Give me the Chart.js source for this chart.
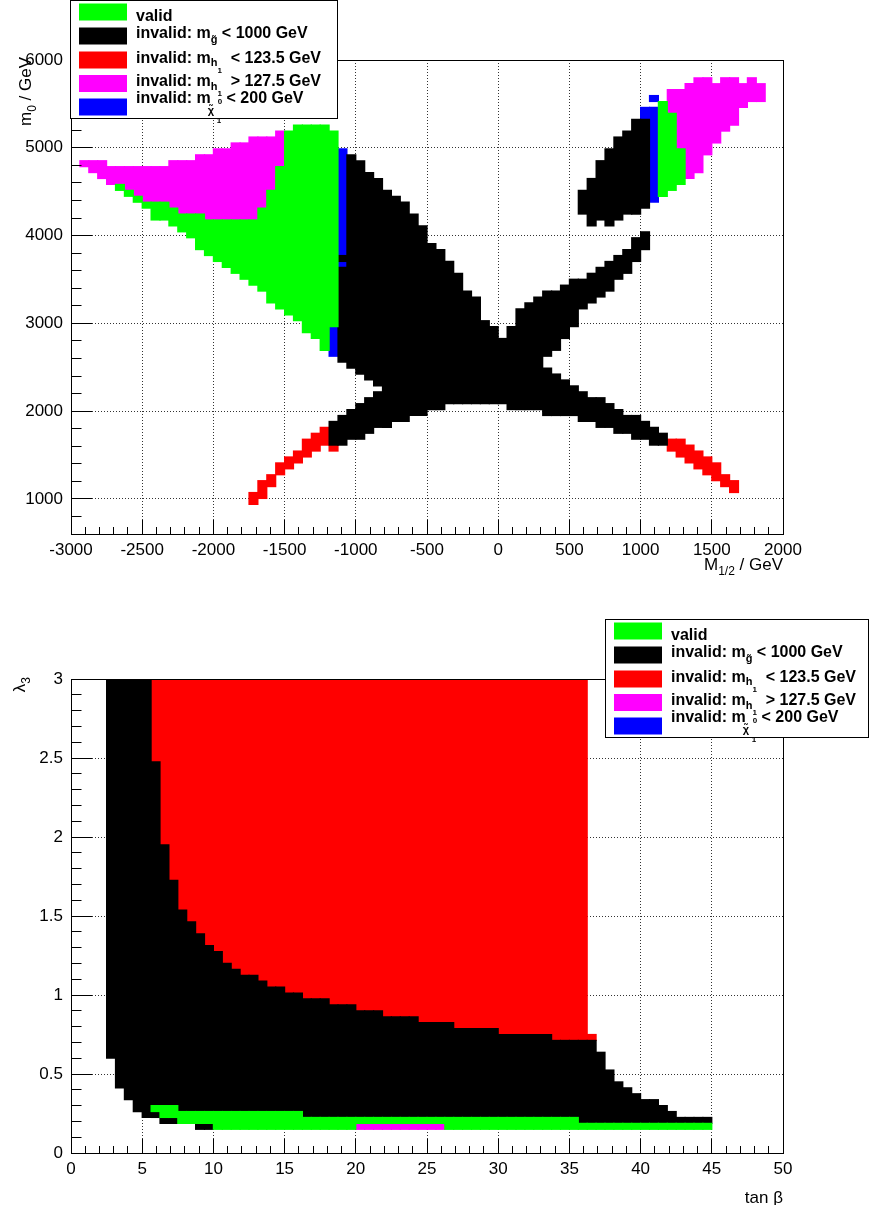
<!DOCTYPE html>
<html><head><meta charset="utf-8">
<script src="https://cdn.jsdelivr.net/npm/chart.js@4.4.1/dist/chart.umd.min.js"></script>
<style>
html,body{margin:0;padding:0;background:#fff;}
#wrap{position:relative;width:869px;height:1205px;overflow:hidden;background:#fff;}
#c1{position:absolute;left:0;top:0;width:869px;height:600px;}
#c2{position:absolute;left:0;top:600px;width:869px;height:605px;}
</style></head><body>
<div id="wrap"><canvas id="c1" width="869" height="600"></canvas><canvas id="c2" width="869" height="605"></canvas></div>
<script>
// ---------------- DATA ----------------
// Top plot: each entry = [M1/2 (GeV, bin centre), m0 from (GeV), m0 to (GeV)]
const topXTicks = [-3000,-2500,-2000,-1500,-1000,-500,0,500,1000,1500,2000];
const topYTicks = [1000,2000,3000,4000,5000,6000];
const topXLabels = ['-3000','-2500','-2000','-1500','-1000','-500','0','500','1000','1500','2000'];
const topYLabels = ['1000','2000','3000','4000','5000','6000'];

const topValid = [
 [-2656.25,4515,4582.5],[-2593.75,4447.5,4515],[-2531.25,4380,4447.5],[-2468.75,4312.5,4380],
 [-2406.25,4177.5,4380],[-2343.75,4177.5,4380],[-2281.25,4110,4312.5],[-2218.75,4042.5,4245],
 [-2156.25,3975,4245],[-2093.75,3840,4245],[-2031.25,3772.5,4177.5],[-1968.75,3705,4177.5],
 [-1906.25,3637.5,4177.5],[-1843.75,3570,4177.5],[-1781.25,3502.5,4177.5],[-1718.75,3435,4177.5],
 [-1656.25,3367.5,4312.5],[-1593.75,3232.5,4515],[-1531.25,3165,4785],[-1468.75,3097.5,5190],
 [-1406.25,3030,5257.5],[-1343.75,2895,5257.5],[-1281.25,2827.5,5257.5],[-1218.75,2692.5,5257.5],
 [-1156.25,2962.5,5190],
 [1156.25,4447.5,5527.5],[1218.75,4515,5392.5],[1281.25,4582.5,4987.5]
];
const topGluino = [
 [-1156.25,1612.5,1882.5],
 [-1093.75,1612.5,1950],[-1093.75,2557.5,3637.5],[-1093.75,3705,3772.5],
 [-1031.25,1680,2017.5],[-1031.25,2490,4920],
 [-968.75,1680,2085],[-968.75,2422.5,4852.5],
 [-906.25,1747.5,2152.5],[-906.25,2355,4717.5],
 [-843.75,1815,2220],[-843.75,2287.5,4650],
 [-781.25,1815,4515],[-718.75,1882.5,4447.5],[-656.25,1882.5,4380],[-593.75,1950,4245],
 [-531.25,1950,4110],[-468.75,2017.5,3907.5],[-406.25,2017.5,3840],[-343.75,2085,3705],
 [-281.25,2085,3570],[-218.75,2085,3367.5],[-156.25,2085,3300],[-93.75,2085,3030],
 [-31.25,2085,2962.5],[31.25,2085,2827.5],[93.75,2017.5,2962.5],[156.25,2017.5,3165],
 [218.75,2017.5,3232.5],[281.25,2017.5,3300],
 [343.75,1950,2490],[343.75,2625,3367.5],
 [406.25,1950,2422.5],[406.25,2692.5,3367.5],
 [468.75,1950,2355],[468.75,2827.5,3435],
 [531.25,1950,2287.5],[531.25,2962.5,3502.5],
 [593.75,1882.5,2220],[593.75,3165,3502.5],[593.75,4245,4515],
 [656.25,1882.5,2152.5],[656.25,3232.5,3570],[656.25,4110,4650],
 [718.75,1815,2152.5],[718.75,3300,3637.5],[718.75,4177.5,4852.5],
 [781.25,1815,2085],[781.25,3367.5,3705],[781.25,4110,4987.5],
 [843.75,1747.5,2017.5],[843.75,3502.5,3772.5],[843.75,4177.5,5122.5],
 [906.25,1747.5,1950],[906.25,3570,3840],[906.25,4245,5190],
 [968.75,1680,1950],[968.75,3705,3975],[968.75,4245,5325],
 [1031.25,1680,1882.5],[1031.25,3840,4042.5],[1031.25,4312.5,5325],
 [1093.75,1612.5,1815],[1156.25,1612.5,1747.5]
];
const topHiggsLow = [
 [-1718.75,937.5,1072.5],[-1656.25,1005,1207.5],[-1593.75,1140,1275],[-1531.25,1275,1410],
 [-1468.75,1342.5,1477.5],[-1406.25,1410,1545],[-1343.75,1477.5,1680],[-1281.25,1545,1747.5],
 [-1218.75,1612.5,1815],[-1156.25,1545,1612.5],
 [1218.75,1545,1680],[1281.25,1477.5,1680],[1343.75,1410,1612.5],[1406.25,1342.5,1545],
 [1468.75,1275,1477.5],[1531.25,1207.5,1410],[1593.75,1140,1275],[1656.25,1072.5,1207.5]
];
const topHiggsHigh = [
 [-2906.25,4785,4852.5],[-2843.75,4717.5,4852.5],[-2781.25,4650,4852.5],[-2718.75,4582.5,4785],
 [-2656.25,4582.5,4785],[-2593.75,4515,4785],[-2531.25,4447.5,4785],[-2468.75,4380,4785],
 [-2406.25,4380,4785],[-2343.75,4380,4785],[-2281.25,4312.5,4852.5],[-2218.75,4245,4852.5],
 [-2156.25,4245,4852.5],[-2093.75,4245,4920],[-2031.25,4177.5,4920],[-1968.75,4177.5,4987.5],
 [-1906.25,4177.5,4987.5],[-1843.75,4177.5,5055],[-1781.25,4177.5,5055],[-1718.75,4177.5,5122.5],
 [-1656.25,4312.5,5122.5],[-1593.75,4515,5122.5],[-1531.25,4785,5190],
 [1218.75,5392.5,5662.5],[1281.25,4987.5,5662.5],[1343.75,4650,5730],[1406.25,4717.5,5797.5],
 [1468.75,4920,5797.5],[1531.25,5055,5730],[1593.75,5190,5797.5],[1656.25,5257.5,5797.5],
 [1718.75,5460,5730],[1781.25,5527.5,5797.5],[1843.75,5527.5,5730]
];
const topNeutralino = [
 [-1156.25,2625,2962.5],[-1093.75,3637.5,3705],[-1093.75,3772.5,4987.5],
 [1031.25,5325,5460],[1093.75,4380,5460],[1093.75,5527.5,5595]
];

// Bottom plot: each entry = [tan beta (bin centre), lambda3 from, lambda3 to]
const botXTicks = [0,5,10,15,20,25,30,35,40,45,50];
const botYTicks = [0,0.5,1,1.5,2,2.5,3];
const botXLabels = ['0','5','10','15','20','25','30','35','40','45','50'];
const botYLabels = ['0','0.5','1','1.5','2','2.5','3'];

const botValid = [
 [5.9375,0.2625,0.3],[6.5625,0.225,0.3],[7.1875,0.225,0.3],
 [7.8125,0.1875,0.2625],[8.4375,0.1875,0.2625],[9.0625,0.1875,0.2625],[9.6875,0.1875,0.2625],
 [10.3125,0.15,0.2625],[10.9375,0.15,0.2625],[11.5625,0.15,0.2625],[12.1875,0.15,0.2625],
 [12.8125,0.15,0.2625],[13.4375,0.15,0.2625],[14.0625,0.15,0.2625],[14.6875,0.15,0.2625],
 [15.3125,0.15,0.2625],[15.9375,0.15,0.2625],
 [16.5625,0.15,0.225],[17.1875,0.15,0.225],[17.8125,0.15,0.225],[18.4375,0.15,0.225],
 [19.0625,0.15,0.225],[19.6875,0.15,0.225],
 [20.3125,0.1875,0.225],[20.9375,0.1875,0.225],[21.5625,0.1875,0.225],[22.1875,0.1875,0.225],
 [22.8125,0.1875,0.225],[23.4375,0.1875,0.225],[24.0625,0.1875,0.225],[24.6875,0.1875,0.225],
 [25.3125,0.1875,0.225],[25.9375,0.1875,0.225],
 [26.5625,0.15,0.225],[27.1875,0.15,0.225],[27.8125,0.15,0.225],[28.4375,0.15,0.225],
 [29.0625,0.15,0.225],[29.6875,0.15,0.225],[30.3125,0.15,0.225],[30.9375,0.15,0.225],
 [31.5625,0.15,0.225],[32.1875,0.15,0.225],[32.8125,0.15,0.225],[33.4375,0.15,0.225],
 [34.0625,0.15,0.225],[34.6875,0.15,0.225],[35.3125,0.15,0.225],
 [35.9375,0.15,0.1875],[36.5625,0.15,0.1875],[37.1875,0.15,0.1875],[37.8125,0.15,0.1875],
 [38.4375,0.15,0.1875],[39.0625,0.15,0.1875],[39.6875,0.15,0.1875],[40.3125,0.15,0.1875],
 [40.9375,0.15,0.1875],[41.5625,0.15,0.1875],[42.1875,0.15,0.1875],[42.8125,0.15,0.1875],
 [43.4375,0.15,0.1875],[44.0625,0.15,0.1875],[44.6875,0.15,0.1875]
];
const botGluino = [
 [2.8125,0.6,3],[3.4375,0.4125,3],[4.0625,0.3375,3],[4.6875,0.2625,3],[5.3125,0.225,3],
 [5.9375,0.225,0.2625],[5.9375,0.3,2.475],
 [6.5625,0.1875,0.225],[6.5625,0.3,1.95],
 [7.1875,0.1875,0.225],[7.1875,0.3,1.725],
 [7.8125,0.2625,1.5375],[8.4375,0.2625,1.4625],
 [9.0625,0.15,0.1875],[9.0625,0.2625,1.3875],
 [9.6875,0.15,0.1875],[9.6875,0.2625,1.3125],
 [10.3125,0.2625,1.275],[10.9375,0.2625,1.2],[11.5625,0.2625,1.1625],[12.1875,0.2625,1.125],
 [12.8125,0.2625,1.125],[13.4375,0.2625,1.0875],[14.0625,0.2625,1.05],[14.6875,0.2625,1.05],
 [15.3125,0.2625,1.0125],[15.9375,0.2625,1.0125],
 [16.5625,0.225,0.975],[17.1875,0.225,0.975],[17.8125,0.225,0.975],
 [18.4375,0.225,0.9375],[19.0625,0.225,0.9375],[19.6875,0.225,0.9375],
 [20.3125,0.225,0.9],[20.9375,0.225,0.9],[21.5625,0.225,0.9],
 [22.1875,0.225,0.8625],[22.8125,0.225,0.8625],[23.4375,0.225,0.8625],[24.0625,0.225,0.8625],
 [24.6875,0.225,0.825],[25.3125,0.225,0.825],[25.9375,0.225,0.825],[26.5625,0.225,0.825],
 [27.1875,0.225,0.7875],[27.8125,0.225,0.7875],[28.4375,0.225,0.7875],[29.0625,0.225,0.7875],[29.6875,0.225,0.7875],
 [30.3125,0.225,0.75],[30.9375,0.225,0.75],[31.5625,0.225,0.75],[32.1875,0.225,0.75],[32.8125,0.225,0.75],[33.4375,0.225,0.75],
 [34.0625,0.225,0.7125],[34.6875,0.225,0.7125],[35.3125,0.225,0.7125],
 [35.9375,0.1875,0.7125],[36.5625,0.1875,0.7125],[37.1875,0.1875,0.6375],[37.8125,0.1875,0.525],
 [38.4375,0.1875,0.45],[39.0625,0.1875,0.4125],[39.6875,0.1875,0.375],[40.3125,0.1875,0.3375],
 [40.9375,0.1875,0.3375],[41.5625,0.1875,0.3],[42.1875,0.1875,0.2625],[42.8125,0.1875,0.225],
 [43.4375,0.1875,0.225],[44.0625,0.1875,0.225],[44.6875,0.1875,0.225]
];
const botHiggsLow = [
 [5.9375,2.475,3],[6.5625,1.95,3],[7.1875,1.725,3],[7.8125,1.5375,3],[8.4375,1.4625,3],
 [9.0625,1.3875,3],[9.6875,1.3125,3],[10.3125,1.275,3],[10.9375,1.2,3],[11.5625,1.1625,3],
 [12.1875,1.125,3],[12.8125,1.125,3],[13.4375,1.0875,3],[14.0625,1.05,3],[14.6875,1.05,3],
 [15.3125,1.0125,3],[15.9375,1.0125,3],[16.5625,0.975,3],[17.1875,0.975,3],[17.8125,0.975,3],
 [18.4375,0.9375,3],[19.0625,0.9375,3],[19.6875,0.9375,3],[20.3125,0.9,3],[20.9375,0.9,3],
 [21.5625,0.9,3],[22.1875,0.8625,3],[22.8125,0.8625,3],[23.4375,0.8625,3],[24.0625,0.8625,3],
 [24.6875,0.825,3],[25.3125,0.825,3],[25.9375,0.825,3],[26.5625,0.825,3],
 [27.1875,0.7875,3],[27.8125,0.7875,3],[28.4375,0.7875,3],[29.0625,0.7875,3],[29.6875,0.7875,3],
 [30.3125,0.75,3],[30.9375,0.75,3],[31.5625,0.75,3],[32.1875,0.75,3],[32.8125,0.75,3],[33.4375,0.75,3],
 [34.0625,0.7125,3],[34.6875,0.7125,3],[35.3125,0.7125,3],[35.9375,0.7125,3],
 [36.5625,0.7125,0.75]
];
const botHiggsHigh = [
 [20.3125,0.15,0.1875],[20.9375,0.15,0.1875],[21.5625,0.15,0.1875],[22.1875,0.15,0.1875],
 [22.8125,0.15,0.1875],[23.4375,0.15,0.1875],[24.0625,0.15,0.1875],[24.6875,0.15,0.1875],
 [25.3125,0.15,0.1875],[25.9375,0.15,0.1875]
];
const botNeutralino = [];

const legendNames = ['valid','invalid: m_g < 1000 GeV','invalid: m_h1 < 123.5 GeV','invalid: m_h1 > 127.5 GeV','invalid: m_chi01 < 200 GeV'];
const seriesColors = ['#00ff00','#000000','#ff0000','#ff00ff','#0000ff'];

// ---------------- RENDERING ----------------
const FONT = "'Liberation Sans', Arial, Helvetica, sans-serif";
Chart.defaults.font.family = FONT;

function drawParts(ctx, parts, x, y) {
  let cx = x;
  for (const p of parts) {
    ctx.font = (p.b ? 'bold ' : '') + p.s + 'px ' + FONT;
    ctx.fillText(p.t, cx + (p.dx || 0), y + (p.dy || 0));
    if (!p.na) cx += ctx.measureText(p.t).width + (p.dx || 0);
  }
  return cx;
}
function partsWidth(ctx, parts) {
  let w = 0;
  for (const p of parts) {
    if (p.na) continue;
    ctx.font = (p.b ? 'bold ' : '') + p.s + 'px ' + FONT;
    w += ctx.measureText(p.t).width + (p.dx || 0);
  }
  return w;
}

const legendText = [
  [{t:'valid', s:16, b:1}],
  [{t:'invalid: m', s:16, b:1}, {t:'g\u0303', s:11, b:1, dy:5.5}, {t:' < 1000 GeV', s:16, b:1}],
  [{t:'invalid: m', s:16, b:1}, {t:'h', s:11, b:1, dy:3.5}, {t:'1', s:8, b:1, dy:10}, {t:'  < 123.5 GeV', s:16, b:1}],
  [{t:'invalid: m', s:16, b:1}, {t:'h', s:11, b:1, dy:3.5}, {t:'1', s:8, b:1, dy:10}, {t:'  > 127.5 GeV', s:16, b:1}],
  [{t:'invalid: m', s:16, b:1}, {t:'\u03c7\u0303', s:11, b:1, dy:11, dx:-3, na:1}, {t:'1', s:8, b:1, dy:20, dx:6, na:1}, {t:'0', s:8, b:1, dy:1, dx:7}, {t:' < 200 GeV', s:16, b:1}]
];
const legendSwatchTop = [3.5, 27.5, 51.5, 75, 98.5];
const legendBaseline = [20.5, 37.5, 62.5, 86, 102.5];

function drawLegend(ctx, L) {
  ctx.save();
  ctx.fillStyle = '#fff';
  ctx.fillRect(L.x, L.y, L.w, L.h);
  ctx.strokeStyle = '#000'; ctx.lineWidth = 1;
  ctx.strokeRect(L.x + 0.5, L.y + 0.5, L.w - 1, L.h - 1);
  ctx.textBaseline = 'alphabetic'; ctx.textAlign = 'left';
  for (let i = 0; i < legendText.length; i++) {
    ctx.fillStyle = seriesColors[i];
    ctx.fillRect(L.x + 9, L.y + legendSwatchTop[i], 48, 17);
    ctx.fillStyle = '#000';
    drawParts(ctx, legendText[i], L.x + 66, L.y + legendBaseline[i]);
  }
  ctx.restore();
}

const rootFrame = {
  id: 'rootFrame',
  afterDatasetsDraw(chart, args, o) {
    const {ctx, chartArea: a} = chart;
    const xs = chart.scales.x, ys = chart.scales.y;
    ctx.save();
    ctx.strokeStyle = '#000'; ctx.lineWidth = 1;
    ctx.beginPath();
    const nX = Math.round((xs.max - xs.min) / o.xMinor);
    for (let i = 0; i <= nX; i++) {
      const v = xs.min + i * o.xMinor;
      const major = o.xMajor.some(m => Math.abs(m - v) < o.xMinor * 1e-3);
      const px = Math.floor(xs.getPixelForValue(v)) + 0.5;
      ctx.moveTo(px, a.bottom); ctx.lineTo(px, a.bottom - (major ? o.xLen : o.xLen / 2));
    }
    const nY = Math.round((ys.max - ys.min) / o.yMinor);
    for (let i = 0; i <= nY; i++) {
      const v = ys.min + i * o.yMinor;
      const major = o.yMajor.some(m => Math.abs(m - v) < o.yMinor * 1e-3);
      const py = Math.floor(ys.getPixelForValue(v)) + 0.5;
      ctx.moveTo(a.left, py); ctx.lineTo(a.left + (major ? o.yLen : o.yLen / 2), py);
    }
    ctx.stroke();
    ctx.strokeRect(Math.floor(a.left) + 0.5, Math.floor(a.top) + 0.5, Math.round(a.right - a.left), Math.round(a.bottom - a.top));
    ctx.restore();
  },
  afterDraw(chart, args, o) {
    const ctx = chart.ctx;
    ctx.save();
    ctx.fillStyle = '#000'; ctx.textAlign = 'left'; ctx.textBaseline = 'alphabetic';
    const wx = partsWidth(ctx, o.xTitle.parts);
    drawParts(ctx, o.xTitle.parts, o.xTitle.right - wx, o.xTitle.base);
    const wy = partsWidth(ctx, o.yTitle.parts);
    ctx.save();
    ctx.translate(o.yTitle.base, o.yTitle.end);
    ctx.rotate(-Math.PI / 2);
    drawParts(ctx, o.yTitle.parts, -wy, 0);
    ctx.restore();
    ctx.restore();
    drawLegend(ctx, o.legend);
  }
};

function build(canvasId, o) {
  const datasets = o.series.map((s, i) => ({
    label: legendNames[i],
    data: s.map(r => ({x: r[0], y: [r[1], r[2]]})),
    backgroundColor: seriesColors[i],
    borderWidth: 0,
    barPercentage: 1,
    categoryPercentage: 1,
    inflateAmount: 0.6,
    grouped: false
  }));
  return new Chart(document.getElementById(canvasId), {
    type: 'bar',
    data: {datasets},
    options: {
      responsive: false, animation: false, events: [],
      layout: {padding: o.padding},
      plugins: {legend: {display: false}, tooltip: {enabled: false}, rootFrame: o.frame},
      scales: {
        x: {
          type: 'linear', min: o.xMin, max: o.xMax, offset: false,
          afterBuildTicks: s => { s.ticks = o.xTicks.map(v => ({value: v})); },
          afterFit: s => { s.height = o.xAxisHeight; },
          ticks: {color: '#000', font: {size: 17}, padding: 6, maxRotation: 0, minRotation: 0, autoSkip: false,
                  callback: (v, i) => o.xLabels[i]},
          grid: {offset: false, color: '#333', lineWidth: 1, drawTicks: false},
          border: {display: false, dash: [1, 2]}
        },
        y: {
          type: 'linear', min: o.yMin, max: o.yMax,
          afterBuildTicks: s => { s.ticks = o.yTicks.map(v => ({value: v})); },
          afterFit: s => { s.width = 71; },
          ticks: {color: '#000', font: {size: 17}, padding: 8, autoSkip: false,
                  callback: (v, i) => o.yLabels[i]},
          grid: {color: '#333', lineWidth: 1, drawTicks: false},
          border: {display: false, dash: [1, 2]}
        }
      }
    },
    plugins: [rootFrame]
  });
}

build('c1', {
  series: [topValid, topGluino, topHiggsLow, topHiggsHigh, topNeutralino],
  xMin: -3000, xMax: 2000, yMin: 600, yMax: 6000,
  xTicks: topXTicks, yTicks: topYTicks, xLabels: topXLabels, yLabels: topYLabels,
  padding: {left: 0, top: 60, right: 86, bottom: 0},
  xAxisHeight: 66,
  frame: {
    xMinor: 100, yMinor: 200, xMajor: topXTicks, yMajor: topYTicks, xLen: 14, yLen: 21,
    xTitle: {right: 783, base: 570, parts: [{t:'M', s:17}, {t:'1/2', s:12, dy:5}, {t:' / GeV', s:17}]},
    yTitle: {end: 57, base: 31, parts: [{t:'m', s:17}, {t:'0', s:12, dy:5}, {t:' / GeV', s:17}]},
    legend: {x: 70, y: 0, w: 268, h: 119}
  }
});

build('c2', {
  series: [botValid, botGluino, botHiggsLow, botHiggsHigh, botNeutralino],
  xMin: 0, xMax: 50, yMin: 0, yMax: 3,
  xTicks: botXTicks, yTicks: botYTicks, xLabels: botXLabels, yLabels: botYLabels,
  padding: {left: 0, top: 79, right: 86, bottom: 0},
  xAxisHeight: 52,
  frame: {
    xMinor: 1, yMinor: 0.1, xMajor: botXTicks, yMajor: botYTicks, xLen: 14, yLen: 21,
    xTitle: {right: 783, base: 603, parts: [{t:'tan \u03b2', s:17}]},
    yTitle: {end: 77, base: 25, parts: [{t:'\u03bb', s:17}, {t:'3', s:12, dy:5}]},
    legend: {x: 605, y: 19, w: 264, h: 119}
  }
});
</script>
</body></html>
